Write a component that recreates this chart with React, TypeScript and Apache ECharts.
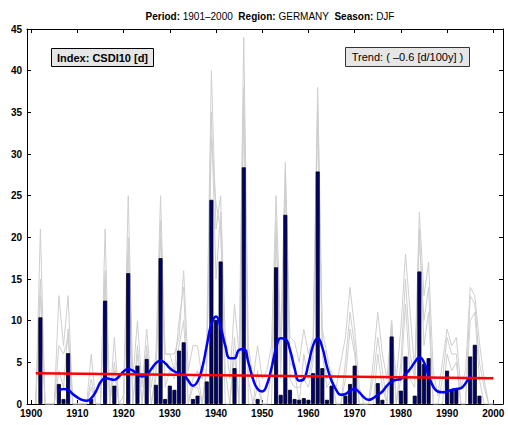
import React, { useEffect, useRef } from "react";
import * as echarts from "echarts";

// Years 1901..2000
const years: number[] = Array.from({ length: 100 }, (_, i) => 1901 + i);

// CSDI10 index [d], DJF, Germany (bars)
const barValues: number[] = [
  0, 10.4, 0, 0, 0, 2.4, 0.6, 6.1, 0, 0, // 1901-1910
  0, 0, 0.6, 0, 0, 12.4, 0, 2.2, 0, 0, // 1911-1920
  15.7, 0, 4.6, 0, 5.4, 0, 2.3, 17.5, 0.6, 2.2, // 1921-1930
  1.7, 6.4, 7.4, 0, 0.6, 1.0, 0, 2.7, 24.5, 10.1, // 1931-1940
  17.1, 0, 0, 4.3, 0, 28.4, 0, 0, 0.6, 0, // 1941-1950
  0, 0, 16.4, 1.1, 22.7, 1.7, 0.6, 0.5, 0.7, 0.5, // 1951-1960
  3.7, 27.9, 4.3, 0.5, 2.2, 0, 0, 1.0, 2.4, 4.6, // 1961-1970
  0, 0, 0, 0, 2.5, 0.5, 0, 8.1, 0, 1.6, // 1971-1980
  5.7, 0, 1.0, 15.9, 4.8, 5.5, 0, 0, 0, 4.0, // 1981-1990
  1.8, 1.8, 0, 0, 5.7, 7.1, 1.0, 0, 0, 0, // 1991-2000
];

// Gray ensemble members
const gray1: number[] = [
  0, 21, 0, 0, 0, 13, 7, 13, 0, 0,
  0, 0, 6, 0, 0, 21, 0, 8, 0, 1,
  25, 3, 10, 2, 9, 2, 6, 25, 6, 6,
  6, 8, 16, 4, 7, 7, 3, 8, 40, 21,
  25, 8, 3, 12, 6, 44, 7, 3, 7, 3,
  4, 7, 25, 8, 29, 8, 7.5, 5, 9, 6,
  8, 38, 9, 6, 3, 2, 5, 8, 14, 9,
  2, 0, 0, 5, 11, 6, 3, 10, 3, 9,
  18, 11, 4, 23, 13, 17, 4, 1, 5, 9,
  7, 8, 2, 4, 14, 13, 7.4, 3, 0, 0,
];
const gray2: number[] = [
  0, 15, 0, 0, 0, 7, 6, 8, 0, 0,
  0, 0, 3, 0, 0, 15, 0, 5, 0, 0,
  20, 0, 7, 0, 7, 0, 4, 20, 6, 6,
  4, 10, 14, 0, 3, 4, 0, 5, 32, 24,
  21, 4, 0, 8, 0, 36, 3, 0, 4, 0,
  0, 4, 22, 5, 26, 5, 4, 0, 6, 3,
  6, 34, 7, 3, 4, 0, 0, 5, 11, 7,
  0, 0, 0, 3, 8, 4, 0, 9, 0, 5,
  15, 6, 3, 20, 10, 14, 0, 0, 3, 8,
  6, 6, 0, 0, 13, 12, 5, 2, 0, 0,
];
const gray3: number[] = [
  0, 13, 0, 0, 0, 4, 2, 9, 0, 0,
  0, 0, 2, 0, 0, 16, 0, 4, 0, 0,
  18, 0, 6, 0, 6, 0, 3, 22, 2, 4,
  3, 7, 10, 0, 2, 2, 0, 4, 35, 15,
  23, 0, 0, 6, 0, 38, 0, 0, 2, 0,
  0, 0, 20, 3, 28, 3, 2, 2, 3, 2,
  5, 36, 6, 2, 3, 0, 0, 3, 9, 6,
  0, 0, 0, 0, 6, 2, 0, 10, 0, 3,
  12, 3, 2, 21, 7, 11, 0, 0, 0, 6,
  4, 5, 0, 0, 10, 11, 3, 0, 0, 0,
];

// Smoothed curve (1906..1995)
const smoothYears: number[] = Array.from({ length: 90 }, (_, i) => 1906 + i);
const smoothValues: number[] = [
  1.6, 1.8, 1.7, 1.2, 0.8, 0.5, 0.4, 0.7, 1.5, 2.6, // 1906-1915
  3.1, 3.0, 2.9, 3.3, 3.9, 4.2, 4.0, 3.5, 3.3, 3.5, // 1916-1925
  4.2, 4.9, 5.2, 4.9, 4.3, 3.9, 3.7, 3.5, 2.8, 2.2, // 1926-1935
  2.7, 4.3, 7.0, 9.6, 10.5, 9.2, 7.0, 5.5, 5.5, 6.5, // 1936-1945
  6.6, 5.0, 3.0, 1.8, 1.5, 2.3, 4.3, 6.7, 7.9, 7.8, // 1946-1955
  6.5, 4.3, 2.8, 3.0, 4.8, 7.0, 7.9, 6.8, 4.5, 2.8, // 1956-1965
  1.7, 1.1, 1.2, 1.6, 1.8, 1.4, 0.8, 0.5, 0.7, 1.1, // 1966-1975
  1.5, 2.2, 2.7, 2.9, 3.0, 3.6, 4.2, 5.0, 5.6, 5.0, // 1976-1985
  3.4, 2.1, 1.5, 1.4, 1.5, 1.7, 1.8, 1.9, 2.5, 3.4, // 1986-1995
];

// Linear trend
const trendYears: number[] = [1901, 2000];
const trendValues: number[] = [3.68, 3.08];

// Tick labels
const xTicks: number[] = [1900, 1910, 1920, 1930, 1940, 1950, 1960, 1970, 1980, 1990, 2000];

const FONT = "Liberation Sans, Arial, Helvetica, sans-serif";

export default function App() {
  const ref = useRef<HTMLDivElement>(null);

  useEffect(() => {
    if (!ref.current) return;
    const chart = echarts.init(ref.current, null, { renderer: "svg" });

    const grayLine = (vals: number[]) => ({
      type: "line",
      data: years.map((y, i) => [y, vals[i]]),
      symbol: "none",
      lineStyle: { color: "#cfcfcf", width: 1 },
      z: 1,
      silent: true,
    });

    const xBase = {
      type: "value",
      min: 1899.1,
      max: 2002.1,
      splitLine: { show: false },
      axisLine: { show: true, onZero: false, lineStyle: { color: "#000", width: 1 } },
    };
    const yBase = {
      type: "value",
      min: 0,
      max: 45,
      interval: 5,
      splitLine: { show: false },
      axisLine: { show: true, onZero: false, lineStyle: { color: "#000", width: 1 } },
      axisTick: { show: true, inside: true, length: 4, lineStyle: { color: "#000" } },
    };

    chart.setOption({
      animation: false,
      backgroundColor: "#fff",
      title: {
        text: "{b|Period:} 1901–2000  {b|Region:} GERMANY  {b|Season:} DJF",
        left: 265,
        textAlign: "center",
        top: 6,
        textStyle: {
          fontFamily: FONT,
          fontSize: 10,
          fontWeight: "normal",
          color: "#000",
          rich: { b: { fontFamily: FONT, fontSize: 10, fontWeight: "bold", color: "#000" } },
        },
      },
      grid: { left: 27, right: 5, top: 29, bottom: 21, containLabel: false },
      xAxis: [
        {
          ...xBase,
          position: "bottom",
          axisTick: { show: true, inside: true, length: 4, customValues: xTicks, lineStyle: { color: "#000" } },
          axisLabel: {
            show: true,
            customValues: xTicks,
            formatter: (v: number) => String(Math.round(v)),
            margin: 4,
            color: "#000",
            fontFamily: FONT,
            fontSize: 10,
            fontWeight: "bold",
          },
        },
        {
          ...xBase,
          position: "top",
          axisTick: { show: true, inside: true, length: 4, customValues: xTicks, lineStyle: { color: "#000" } },
          axisLabel: { show: false },
        },
      ],
      yAxis: [
        {
          ...yBase,
          position: "left",
          axisLabel: {
            show: true,
            margin: 5,
            color: "#000",
            fontFamily: FONT,
            fontSize: 10,
            fontWeight: "bold",
            showMaxLabel: true,
            showMinLabel: true,
          },
        },
        {
          ...yBase,
          position: "right",
          axisLabel: { show: false },
        },
      ],
      series: [
        grayLine(gray1),
        grayLine(gray2),
        grayLine(gray3),
        {
          type: "bar",
          data: years.map((y, i) => [y, barValues[i] > 0 ? barValues[i] : null]),
          barWidth: 4,
          itemStyle: { color: "#00007a", borderColor: "#000", borderWidth: 0.8 },
          z: 2,
          silent: true,
        },
        {
          type: "line",
          data: smoothYears.map((y, i) => [y, smoothValues[i]]),
          smooth: 0.5,
          symbol: "none",
          lineStyle: { color: "#0000ff", width: 2.5 },
          z: 3,
          silent: true,
        },
        {
          type: "line",
          data: trendYears.map((y, i) => [y, trendValues[i]]),
          symbol: "none",
          lineStyle: { color: "#ff0000", width: 2.5 },
          z: 4,
          silent: true,
        },
      ],
      graphic: [
        {
          type: "group",
          left: 51,
          top: 48,
          children: [
            {
              type: "rect",
              shape: { x: 0, y: 0, width: 102, height: 18 },
              style: { fill: "#e6e6e6", stroke: "#000", lineWidth: 1 },
            },
            {
              type: "text",
              x: 51,
              y: 9,
              style: {
                text: "Index: CSDI10 [d]",
                fontFamily: FONT,
                fontSize: 11,
                fontWeight: "bold",
                fill: "#000",
                align: "center",
                verticalAlign: "middle",
              },
            },
          ],
        },
        {
          type: "group",
          left: 345,
          top: 47,
          children: [
            {
              type: "rect",
              shape: { x: 0, y: 0, width: 124, height: 19 },
              style: { fill: "#e6e6e6", stroke: "#333", lineWidth: 1 },
            },
            {
              type: "text",
              x: 62,
              y: 9.5,
              style: {
                text: "Trend: ( –0.6 [d/100y] )",
                fontFamily: FONT,
                fontSize: 11,
                fontWeight: "normal",
                fill: "#000",
                align: "center",
                verticalAlign: "middle",
              },
            },
          ],
        },
      ],
    });

    return () => chart.dispose();
  }, []);

  return (
    <div
      ref={ref}
      style={{ position: "fixed", left: 0, top: 0, width: 508, height: 425, background: "#fff" }}
    />
  );
}
